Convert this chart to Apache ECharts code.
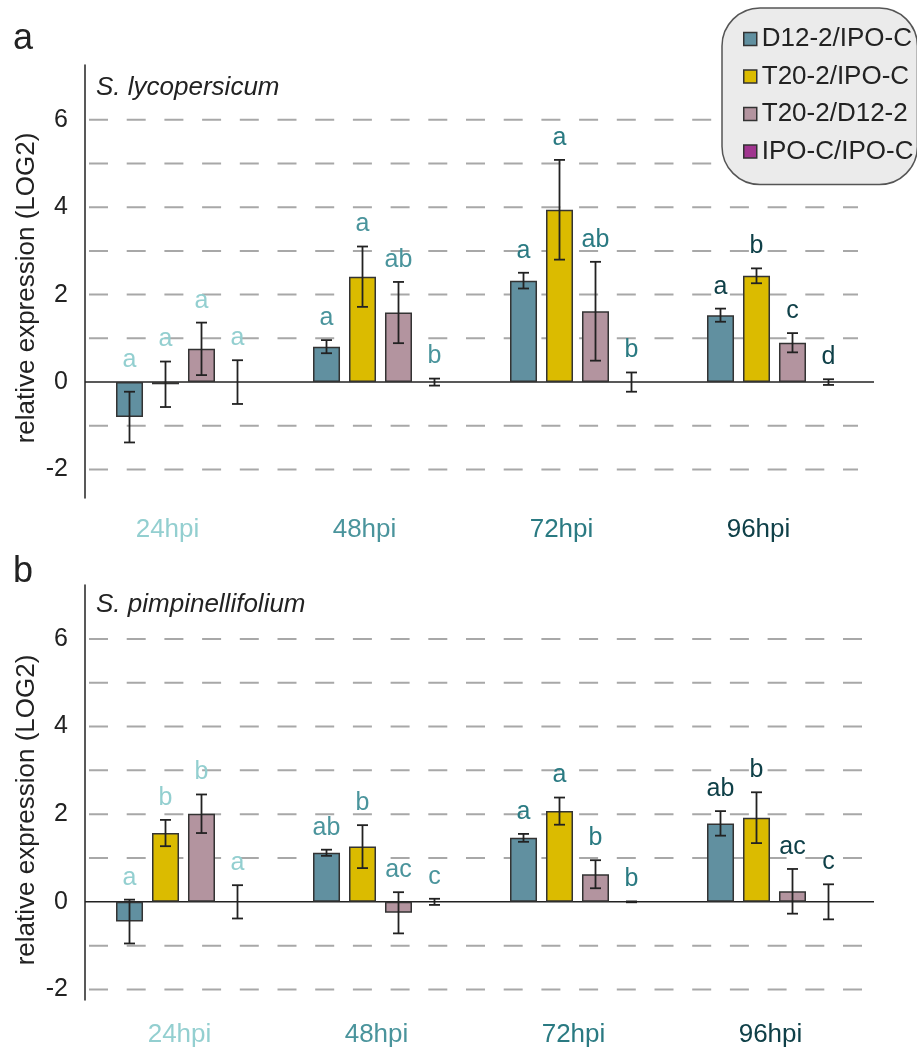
<!DOCTYPE html>
<html>
<head>
<meta charset="utf-8">
<script src="https://cdn.jsdelivr.net/npm/echarts@6/dist/echarts.min.js"></script>
<style>
html,body{margin:0;padding:0;background:#fff;}
#chart{width:917px;height:1055px;}
</style>
</head>
<body>
<div id="chart"></div>
<script>
// ---------- data ----------
const categories = ['24hpi', '48hpi', '72hpi', '96hpi'];
const seriesNames = ['D12-2/IPO-C', 'T20-2/IPO-C', 'T20-2/D12-2', 'IPO-C/IPO-C'];
const yTickLabels = [-2, 0, 2, 4, 6];
const yGridValues = [-2, -1, 1, 2, 3, 4, 5, 6];

// panel a: S. lycopersicum
const aD12 = [-0.80, 0.81, 2.32, 1.53];
const aD12Err = [0.58, 0.15, 0.18, 0.15];
const aT20 = [-0.05, 2.41, 3.94, 2.43];
const aT20Err = [0.52, 0.69, 1.14, 0.17];
const aT20D12 = [0.76, 1.59, 1.62, 0.90];
const aT20D12Err = [0.60, 0.70, 1.13, 0.22];
const aIPO = [0, 0, 0, 0];
const aIPOErr = [0.50, 0.08, 0.22, 0.065];
const aD12Letters = ['a', 'a', 'a', 'a'];
const aT20Letters = ['a', 'a', 'a', 'b'];
const aT20D12Letters = ['a', 'ab', 'ab', 'c'];
const aIPOLetters = ['a', 'b', 'b', 'd'];

// panel b: S. pimpinellifolium
const bD12 = [-0.45, 1.12, 1.46, 1.79];
const bD12Err = [0.50, 0.07, 0.09, 0.28];
const bT20 = [1.57, 1.26, 2.07, 1.92];
const bT20Err = [0.30, 0.49, 0.31, 0.58];
const bT20D12 = [2.01, -0.25, 0.63, 0.24];
const bT20D12Err = [0.44, 0.47, 0.32, 0.51];
const bIPO = [0, 0, 0, 0];
const bIPOErr = [0.38, 0.07, 0.01, 0.40];
const bD12Letters = ['a', 'ab', 'a', 'ab'];
const bT20Letters = ['b', 'b', 'a', 'b'];
const bT20D12Letters = ['b', 'ac', 'b', 'ac'];
const bIPOLetters = ['a', 'c', 'b', 'c'];

// ---------- styles ----------
const FONT = '"Liberation Sans", Arial, Helvetica, sans-serif';
const seriesColors = ['#6190a0', '#dbbb00', '#b3949f', '#a0358f'];
const catColors = ['#93cfd0', '#4a949c', '#2a7a82', '#0f4048'];
const INK = '#222';
const BAR_W = 27;
const BAR_STEP = 36;

const panels = [
  {
    vals: [aD12, aT20, aT20D12, aIPO],
    errs: [aD12Err, aT20Err, aT20D12Err, aIPOErr],
    letters: [aD12Letters, aT20Letters, aT20D12Letters, aIPOLetters],
    gridTrim: 15
  },
  {
    vals: [bD12, bT20, bT20D12, bIPO],
    errs: [bD12Err, bT20Err, bT20D12Err, bIPOErr],
    letters: [bD12Letters, bT20Letters, bT20D12Letters, bIPOLetters],
    gridTrim: 0
  }
];

const series = [];
panels.forEach((p, pi) => {
  // gridlines + zero line
  series.push({
    type: 'custom',
    xAxisIndex: pi, yAxisIndex: pi,
    z: 1, silent: true,
    data: yGridValues.concat([0]).map(v => [0, v]),
    encode: { x: 0, y: 1 },
    renderItem: function (params, api) {
      const v = api.value(1);
      const y = api.coord([0, v])[1];
      const cs = params.coordSys;
      if (v === 0) {
        return { type: 'line', shape: { x1: cs.x, y1: y, x2: cs.x + cs.width + 1, y2: y },
          style: { stroke: INK, lineWidth: 1.5 }, z2: 50 };
      }
      return { type: 'line', shape: { x1: cs.x, y1: y, x2: cs.x + cs.width - p.gridTrim, y2: y },
        style: { stroke: '#a8a8a8', lineWidth: 2, lineDash: [19, 18.7], lineDashOffset: 33.7 } };
    }
  });
  // bars
  for (let s = 0; s < 4; s++) {
    series.push({
      type: 'bar',
      name: seriesNames[s],
      xAxisIndex: pi, yAxisIndex: pi,
      data: p.vals[s],
      barWidth: BAR_W,
      barGap: ((BAR_STEP - BAR_W) / BAR_W * 100).toFixed(1) + '%',
      z: 2,
      itemStyle: { color: seriesColors[s], borderColor: '#333', borderWidth: s === 3 ? 0 : 1.5 }
    });
  }
  // error bars + letters
  for (let s = 0; s < 4; s++) {
    const vals = p.vals[s], errs = p.errs[s], lets = p.letters[s];
    series.push({
      type: 'custom',
      xAxisIndex: pi, yAxisIndex: pi,
      z: 3, silent: true,
      data: vals.map((v, i) => [i, v, errs[i]]),
      encode: { x: 0, y: 1 },
      renderItem: function (params, api) {
        const ci = api.value(0), v = api.value(1), e = api.value(2);
        const x = api.coord([ci, v])[0] + (s - 1.5) * BAR_STEP;
        const yT = api.coord([ci, v + e])[1];
        const yB = api.coord([ci, v - e])[1];
        const y0 = api.coord([ci, 0])[1];
        const cap = 5.5;
        const st = { stroke: INK, lineWidth: 1.8 };
        const top = Math.min(yT, y0);
        return {
          type: 'group',
          children: [
            { type: 'line', shape: { x1: x, y1: yT, x2: x, y2: yB }, style: st },
            { type: 'line', shape: { x1: x - cap, y1: yT, x2: x + cap, y2: yT }, style: st },
            { type: 'line', shape: { x1: x - cap, y1: yB, x2: x + cap, y2: yB }, style: st },
            { type: 'text', x: x, y: top - 22,
              style: { text: lets[params.dataIndex], fill: catColors[ci], font: '25px ' + FONT,
                align: 'center', verticalAlign: 'middle' } }
          ]
        };
      }
    });
  }
});

const option = {
  animation: false,
  backgroundColor: '#fff',
  textStyle: { fontFamily: FONT },
  grid: [
    { left: 85, top: 65, width: 788, height: 433 },
    { left: 85, top: 585, width: 788, height: 415 }
  ],
  xAxis: [0, 1].map(i => ({
    type: 'category', gridIndex: i, data: categories,
    axisLine: { show: false, onZero: false },
    axisTick: { show: false },
    splitLine: { show: false },
    axisLabel: {
      fontSize: 26, fontFamily: FONT,
      color: (val, idx) => catColors[idx],
      margin: i ? 22 : 19,
      padding: i ? [0, 8, 0, 0] : [0, 32, 0, 0]
    }
  })),
  yAxis: [
    { min: -2.65, max: 7.25 },
    { min: -2.24, max: 7.23 }
  ].map((r, i) => ({
    type: 'value', gridIndex: i, min: r.min, max: r.max,
    axisLine: { show: true, onZero: false, lineStyle: { color: INK, width: 1.5 } },
    axisTick: { show: false, customValues: yTickLabels },
    splitLine: { show: false },
    axisLabel: { customValues: yTickLabels, fontSize: 25, fontFamily: FONT, color: INK, margin: 17 }
  })),
  legend: {
    orient: 'vertical', left: 722, top: 8,
    data: seriesNames,
    icon: 'rect', itemWidth: 13, itemHeight: 13, itemGap: 11.5,
    padding: [18, 4, 20, 21],
    backgroundColor: '#ebebeb', borderColor: '#555', borderWidth: 1.5, borderRadius: 38,
    selectedMode: false,
    itemStyle: { borderColor: '#333', borderWidth: 1.5 },
    textStyle: { fontSize: 26, color: INK, fontFamily: FONT, lineHeight: 26 }
  },
  graphic: [
    { type: 'text', x: 13, y: 39, style: { text: 'a', font: '36px ' + FONT, fill: INK, verticalAlign: 'middle' } },
    { type: 'text', x: 13, y: 572, style: { text: 'b', font: '36px ' + FONT, fill: INK, verticalAlign: 'middle' } },
    { type: 'text', x: 96, y: 88, style: { text: 'S. lycopersicum', font: 'italic 26px ' + FONT, fill: INK, verticalAlign: 'middle' } },
    { type: 'text', x: 96, y: 605, style: { text: 'S. pimpinellifolium', font: 'italic 26px ' + FONT, fill: INK, verticalAlign: 'middle' } },
    { type: 'text', x: 27, y: 288, rotation: Math.PI / 2,
      style: { text: 'relative expression (LOG2)', font: '26px ' + FONT, fill: INK, align: 'center', verticalAlign: 'middle' } },
    { type: 'text', x: 27, y: 810, rotation: Math.PI / 2,
      style: { text: 'relative expression (LOG2)', font: '26px ' + FONT, fill: INK, align: 'center', verticalAlign: 'middle' } }
  ],
  series: series
};

const chart = echarts.init(document.getElementById('chart'), null, { renderer: 'canvas' });
chart.setOption(option);
</script>
</body>
</html>
